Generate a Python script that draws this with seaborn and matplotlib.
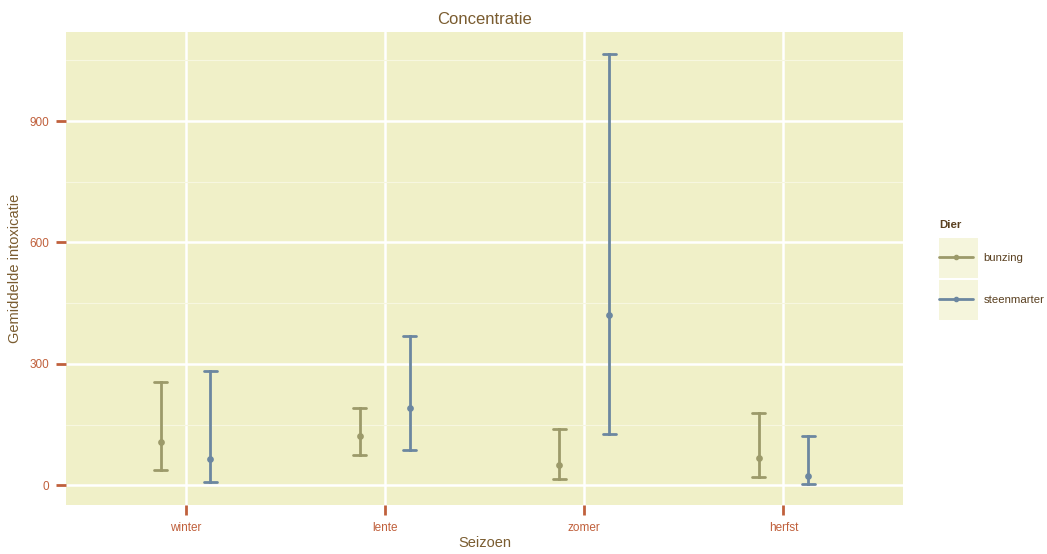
import numpy as np
import pandas as pd
import seaborn as sns
import matplotlib.pyplot as plt
from matplotlib.lines import Line2D
from matplotlib.patches import Rectangle

# seasons and animals
seizoenen = ['winter', 'lente', 'zomer', 'herfst']
dieren = ['bunzing', 'steenmarter']

# mean intoxication and interval bounds
bunzing_gem = [106, 121, 49, 67]
bunzing_laag = [37, 74, 15, 20]
bunzing_hoog = [255, 190, 138, 178]

steenmarter_gem = [64, 190, 420, 22]
steenmarter_laag = [7, 87, 126, 2]
steenmarter_hoog = [282, 368, 1066, 121]

kleuren = {'bunzing': '#9c9a6a', 'steenmarter': '#6c87a0'}

# long table: three values per group (low, mean, high);
# median gives the mean, min/max give the interval
rows = []
for dier, gem, laag, hoog in [('bunzing', bunzing_gem, bunzing_laag, bunzing_hoog),
                              ('steenmarter', steenmarter_gem, steenmarter_laag, steenmarter_hoog)]:
    for s, g, l, h in zip(seizoenen, gem, laag, hoog):
        for v in (l, g, h):
            rows.append([s, dier, v])
df = pd.DataFrame(rows, columns=['Seizoen', 'Dier', 'waarde'])

sns.set_theme(style='white')
plt.rcParams['font.family'] = ['Liberation Sans', 'DejaVu Sans']

fig = plt.figure(figsize=(10.47, 5.54), dpi=100)
ax = fig.add_axes([0.063, 0.0884, 0.7995, 0.8538])
ax.set_facecolor('#f0f0c8')

sns.pointplot(data=df, x='Seizoen', y='waarde', hue='Dier', order=seizoenen,
              hue_order=dieren, palette=kleuren, estimator=np.median,
              errorbar=lambda x: (np.min(x), np.max(x)), dodge=0.25,
              linestyle='none', capsize=0.065, markersize=2.8,
              err_kws={'linewidth': 2}, ax=ax, legend=False, zorder=3)

ax.set_xlim(-0.6, 3.6)
ax.set_ylim(-49, 1120)
ax.set_yticks([0, 300, 600, 900])
ax.set_yticks([150, 450, 750, 1050], minor=True)

ax.grid(True, which='major', color='white', linewidth=1.8, zorder=0)
ax.grid(True, which='minor', axis='y', color='#f7f7e0', linewidth=0.8, zorder=0)
ax.set_axisbelow(True)
for sp in ax.spines.values():
    sp.set_visible(False)

tick_kleur = '#c0603c'
ax.tick_params(axis='both', which='major', bottom=True, left=True, length=7, width=2,
               color=tick_kleur, labelcolor=tick_kleur, labelsize=8.5, pad=5,
               direction='out')
ax.tick_params(axis='y', which='minor', length=0)

tekst_kleur = '#7a5c30'
ax.set_title('Concentratie', color=tekst_kleur, fontsize=12, pad=6)
ax.set_xlabel('Seizoen', color=tekst_kleur, fontsize=10.5, labelpad=2)
ax.set_ylabel('Gemiddelde intoxicatie', color=tekst_kleur, fontsize=10.5, labelpad=5)

# legend key backgrounds
for y0 in (0.4982, 0.4224):
    fig.patches.append(Rectangle((0.8968, y0), 0.0373, 0.0722, transform=fig.transFigure,
                                 facecolor='#f5f5dc', edgecolor='none', zorder=0))

handles = [Line2D([0], [0], color=kleuren[d], linewidth=2, marker='o', markersize=3)
           for d in dieren]
leg = fig.legend(handles, dieren, title='Dier', loc='upper left',
                 bbox_to_anchor=(0.888, 0.619), frameon=False, fontsize=8.2,
                 title_fontsize=8.2, handlelength=3.0, labelspacing=2.8,
                 handletextpad=0.9, borderpad=0.3)
leg.get_title().set_color('#5a4020')
leg.get_title().set_fontweight('bold')
leg._legend_box.align = 'left'
leg._legend_box.sep = 16.5
for t in leg.get_texts():
    t.set_color('#5a4020')

fig.savefig('out.png', dpi=100)
